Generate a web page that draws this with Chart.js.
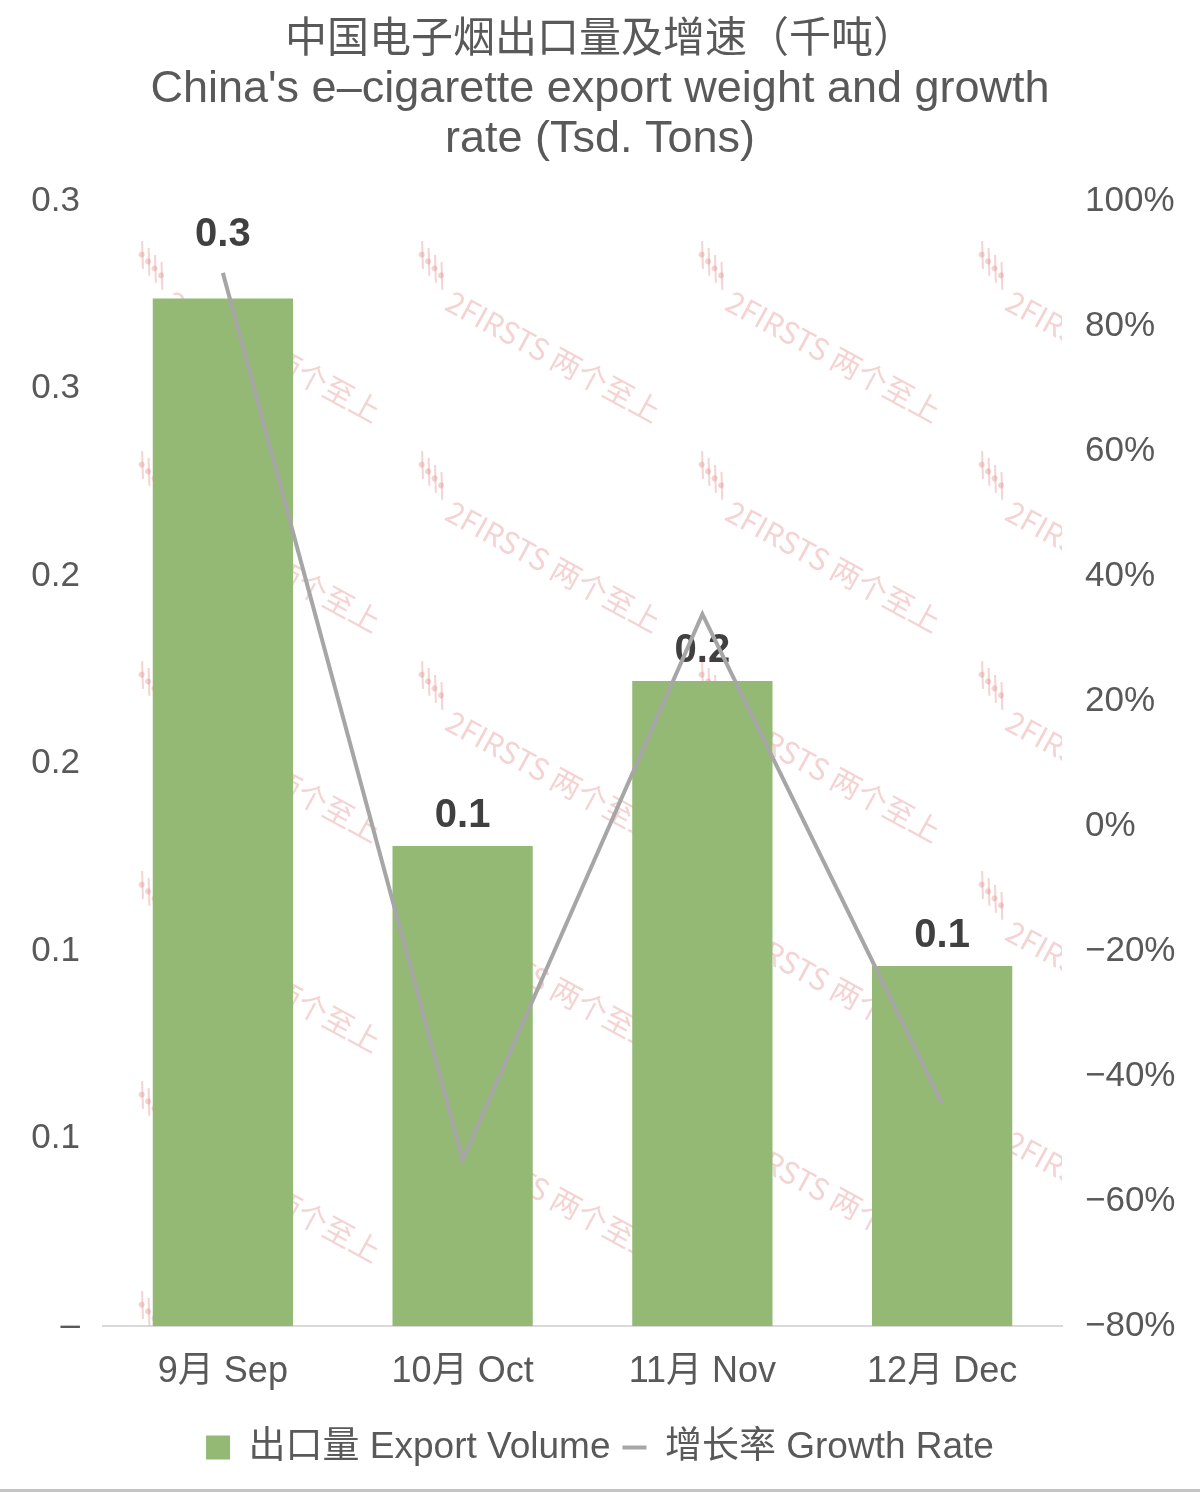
<!DOCTYPE html>
<html>
<head>
<meta charset="utf-8">
<script src="https://cdn.jsdelivr.net/npm/chart.js@4.4.0/dist/chart.umd.min.js"></script>
<style>
  html, body { margin: 0; padding: 0; background: #fff; }
  #wrap { width: 1200px; height: 1492px; position: relative; }
</style>
</head>
<body>
<div id="wrap"><canvas id="chart" width="1200" height="1492"></canvas></div>
<script>
'use strict';

// chart data
const months = ['9月 Sep', '10月 Oct', '11月 Nov', '12月 Dec'];
const exportVolume = [0.274, 0.128, 0.172, 0.096];
const growthRate = [88.5, -53.4, 33.9, -44.4];

// tick labels as printed on the picture
const leftTickLabels = ['–', '0.1', '0.1', '0.2', '0.2', '0.3', '0.3'];
const rightTickLabels = ['−80%', '−60%', '−40%', '−20%', '0%', '20%', '40%', '60%', '80%', '100%'];

const FONT = "'Liberation Sans', 'Noto Sans CJK SC', sans-serif";
const TEXT = '#595959';


// faint tiled watermark behind the bars
const watermark = {
    id: 'watermark',
    beforeDatasetsDraw(chart) {
        const ctx = chart.ctx;
        ctx.save();
        ctx.beginPath();
        ctx.rect(125, 170, chart.chartArea.right - 125, chart.chartArea.bottom - 170);
        ctx.clip();
        ctx.fillStyle = 'rgba(225, 140, 140, 0.38)';
        ctx.strokeStyle = 'rgba(225, 140, 140, 0.38)';
        ctx.font = "30px 'Noto Sans CJK SC', sans-serif";
        ctx.textBaseline = 'middle';
        for (let gx = 130; gx < 1100; gx += 280) {
            for (let gy = 255; gy < 1400; gy += 210) {
                ctx.save();
                ctx.translate(gx, gy);
                ctx.rotate(0.5);
                // small dotted icon
                ctx.lineWidth = 2;
                for (let k = 0; k < 4; k++) {
                    ctx.beginPath();
                    ctx.moveTo(4 + k * 9, -18 + k * 3);
                    ctx.lineTo(18 + k * 9, 6 + k * 3);
                    ctx.stroke();
                    ctx.beginPath();
                    ctx.arc(10 + k * 9, -6 + k * 3, 3, 0, Math.PI * 2);
                    ctx.fill();
                }
                ctx.fillText('2FIRSTS 两个至上', 55, 20);
                ctx.restore();
            }
        }
        ctx.restore();
    }
};


// value labels above the bars, drawn before the line
const barLabels = {
    id: 'barLabels',
    afterDatasetDraw(chart, args, opts) {
        if (args.index !== 0) return;
        const ctx = chart.ctx;
        ctx.save();
        ctx.font = 'bold 40px ' + FONT;
        ctx.fillStyle = '#404040';
        ctx.textAlign = 'center';
        ctx.textBaseline = 'middle';
        args.meta.data.forEach((bar, i) => {
            const lift = opts.lift[i] || 0;
            ctx.fillText(exportVolume[i].toFixed(1), bar.x, bar.y - 30 - lift);
        });
        ctx.restore();
    }
};


// thin grey rule along the bottom edge
const bottomRule = {
    id: 'bottomRule',
    afterDraw(chart) {
        const ctx = chart.ctx;
        ctx.save();
        ctx.fillStyle = '#c4c4c4';
        ctx.fillRect(0, chart.height - 3, chart.width, 3);
        ctx.restore();
    }
};


new Chart(document.getElementById('chart').getContext('2d'), {
    type: 'bar',
    data: {
        labels: months,
        datasets: [
            {
                type: 'bar',
                label: '出口量 Export Volume',
                data: exportVolume,
                backgroundColor: '#93b974',
                borderWidth: 0,
                categoryPercentage: 1,
                barPercentage: 0.585,
                yAxisID: 'y',
                order: 2
            },
            {
                type: 'line',
                label: '增长率 Growth Rate',
                data: growthRate,
                borderColor: '#a6a6a6',
                backgroundColor: '#a6a6a6',
                borderWidth: 4,
                pointRadius: 0,
                tension: 0,
                yAxisID: 'y1',
                order: 1
            }
        ]
    },
    options: {
        responsive: false,
        animation: false,
        events: [],
        layout: { padding: { left: 0, right: 0, top: 0, bottom: 16 } },
        plugins: {
            tooltip: { enabled: false },
            title: {
                display: true,
                text: '中国电子烟出口量及增速（千吨）',
                color: TEXT,
                font: { family: FONT, size: 42, weight: 'normal', lineHeight: 50 / 42 },
                padding: { top: 15, bottom: 0 }
            },
            subtitle: {
                display: true,
                text: ["China's e–cigarette export weight and growth", 'rate (Tsd. Tons)'],
                color: TEXT,
                font: { family: FONT, size: 45, weight: 'normal', lineHeight: 50 / 45 },
                padding: { top: 0, bottom: 36 }
            },
            legend: {
                position: 'bottom',
                labels: {
                    color: TEXT,
                    font: { family: FONT, size: 37 },
                    usePointStyle: true,
                    pointStyleWidth: 24,
                    boxHeight: 24,
                    padding: 12,
                    generateLabels(chart) {
                        const items = Chart.defaults.plugins.legend.labels.generateLabels(chart);
                        items.forEach((it) => {
                            if (it.datasetIndex === 0) {
                                it.pointStyle = 'rect';
                                it.lineWidth = 0;
                            } else {
                                it.pointStyle = 'line';
                                it.lineWidth = 4;
                            }
                        });
                        return items.sort((a, b) => a.datasetIndex - b.datasetIndex);
                    }
                }
            },
            barLabels: { lift: [34, 0, 0, 0] }
        },
        scales: {
            x: {
                grid: { display: false, drawTicks: false },
                border: { display: true, color: '#d9d9d9', width: 2 },
                ticks: { color: TEXT, font: { family: FONT, size: 36 }, padding: 24 },
                afterFit(scale) { scale.height = 91; }
            },
            y: {
                position: 'left',
                min: 0,
                max: 0.3,
                grid: { display: false, drawTicks: false },
                border: { display: false },
                ticks: {
                    stepSize: 0.05,
                    color: TEXT,
                    font: { family: FONT, size: 35 },
                    padding: 23,
                    callback: (v, i) => leftTickLabels[i]
                },
                afterFit(scale) { scale.width = 103; }
            },
            y1: {
                position: 'right',
                min: -80,
                max: 100,
                grid: { display: false, drawTicks: false },
                border: { display: false },
                ticks: {
                    stepSize: 20,
                    color: TEXT,
                    font: { family: FONT, size: 35 },
                    padding: 23,
                    callback: (v, i) => rightTickLabels[i]
                },
                afterFit(scale) { scale.width = 138; }
            }
        }
    },
    plugins: [watermark, barLabels, bottomRule]
});
</script>
</body>
</html>
